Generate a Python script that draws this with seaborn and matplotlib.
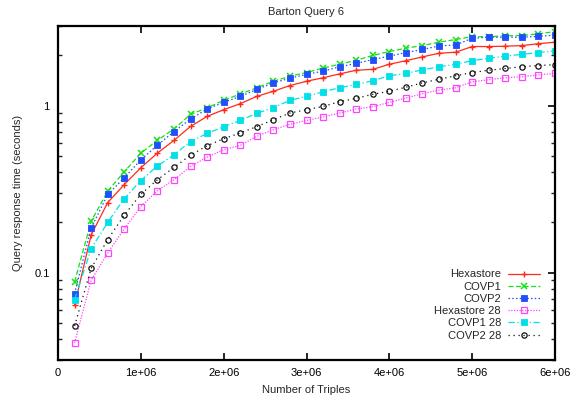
import numpy as np
import pandas as pd
import matplotlib
matplotlib.use("Agg")
import matplotlib.pyplot as plt
import seaborn as sns
from matplotlib.ticker import FixedLocator, NullFormatter, FixedFormatter

sns.set_theme(style="white")
plt.rcParams['font.family'] = ['Liberation Sans', 'DejaVu Sans']

triples = [200000 * k for k in range(1, 31)]

hexastore = [0.064, 0.168, 0.263, 0.337, 0.425, 0.52, 0.62, 0.751, 0.863, 0.946,
             1.028, 1.137, 1.22, 1.32, 1.40, 1.47, 1.55, 1.63, 1.65, 1.77,
             1.86, 1.96, 2.06, 2.09, 2.26, 2.26, 2.27, 2.29, 2.35, 2.40]
covp1 = [0.088, 0.203, 0.308, 0.402, 0.52, 0.62, 0.725, 0.887, 0.97, 1.076,
         1.175, 1.28, 1.40, 1.50, 1.58, 1.68, 1.77, 1.87, 2.0, 2.11,
         2.21, 2.29, 2.40, 2.49, 2.59, 2.59, 2.62, 2.63, 2.69, 2.78]
covp2 = [0.075, 0.185, 0.294, 0.37, 0.474, 0.58, 0.70, 0.832, 0.955, 1.047,
         1.137, 1.25, 1.37, 1.46, 1.54, 1.61, 1.71, 1.79, 1.89, 1.98,
         2.08, 2.17, 2.28, 2.31, 2.53, 2.57, 2.57, 2.57, 2.60, 2.65]
hexastore28 = [0.038, 0.090, 0.131, 0.183, 0.249, 0.31, 0.36, 0.433, 0.492, 0.545,
               0.578, 0.655, 0.718, 0.773, 0.816, 0.855, 0.904, 0.955, 0.986, 1.047,
               1.11, 1.18, 1.24, 1.28, 1.39, 1.43, 1.47, 1.49, 1.53, 1.56]
covp1_28 = [0.069, 0.139, 0.20, 0.278, 0.356, 0.436, 0.508, 0.61, 0.682, 0.748,
            0.816, 0.90, 0.973, 1.076, 1.137, 1.21, 1.28, 1.34, 1.41, 1.51,
            1.56, 1.64, 1.71, 1.77, 1.86, 1.92, 1.98, 2.03, 2.08, 2.13]
covp2_28 = [0.048, 0.106, 0.158, 0.221, 0.295, 0.36, 0.427, 0.506, 0.575, 0.634,
            0.686, 0.75, 0.824, 0.904, 0.946, 0.99, 1.057, 1.106, 1.17, 1.22,
            1.29, 1.37, 1.44, 1.51, 1.58, 1.63, 1.67, 1.71, 1.74, 1.76]

series = [
    ("Hexastore", hexastore, "#ff2a1a", "-", "+", dict(ms=4.5, mew=1.0)),
    ("COVP1", covp1, "#14e014", (0, (4, 2)), "x", dict(ms=4.5, mew=1.1)),
    ("COVP2", covp2, "#1f4fff", (0, (1.2, 1.8)), "s", dict(ms=3.8, mew=0.6)),
    ("Hexastore 28", hexastore28, "#ff44ff", (0, (1, 1.2)), "s", dict(ms=3.8, mew=0.9, mfc="none")),
    ("COVP1 28", covp1_28, "#00e0e8", (0, (5, 2, 1, 2)), "s", dict(ms=4.5, mew=0.6)),
    ("COVP2 28", covp2_28, "#111111", (0, (1, 3)), "o", dict(ms=3.8, mew=0.9, mfc="none")),
]

fig = plt.figure(figsize=(5.72, 3.98), dpi=100)
ax = fig.add_axes([58/572, 1-360/398, 497/572, 334/398])

for name, vals, color, ls, mk, kw in series:
    df = pd.DataFrame({"x": triples, "y": vals})
    sns.lineplot(data=df, x="x", y="y", ax=ax, color=color, linestyle=ls,
                 linewidth=0.9, marker=mk, markeredgecolor=color, label=name, **kw)

ax.set_yscale("log")
ax.set_xlim(0, 6e6)
ax.set_ylim(0.03, 3.0)

xt = [0, 1e6, 2e6, 3e6, 4e6, 5e6, 6e6]
xtl = ["0", "1e+06", "2e+06", "3e+06", "4e+06", "5e+06", "6e+06"]
ax.xaxis.set_major_locator(FixedLocator(xt))
ax.xaxis.set_major_formatter(FixedFormatter(xtl))
ax.yaxis.set_major_locator(FixedLocator([0.1, 1]))
ax.yaxis.set_major_formatter(FixedFormatter(["0.1", "1"]))
minors = [0.03, 0.04, 0.05, 0.06, 0.07, 0.08, 0.09, 0.2, 0.3, 0.4, 0.5, 0.6, 0.7, 0.8, 0.9, 2, 3]
ax.yaxis.set_minor_locator(FixedLocator(minors))
ax.yaxis.set_minor_formatter(NullFormatter())

ax.tick_params(axis="both", which="major", direction="in", length=5, width=1.2,
               top=True, right=True, labelsize=8, pad=6, colors="black")
ax.tick_params(axis="y", which="minor", direction="in", length=3, width=1.0,
               left=True, right=True)
ax.tick_params(axis="x", which="both", bottom=True, top=True)
for sp in ax.spines.values():
    sp.set_visible(True)
    sp.set_color("black")
    sp.set_linewidth(1.6)

ax.set_xlabel("Number of Triples", fontsize=8, labelpad=5)
ax.set_ylabel("Query response time (seconds)", fontsize=8, labelpad=8)
ax.set_title("Barton Query 6", fontsize=8, pad=8)

leg = ax.legend(loc="lower right", bbox_to_anchor=(0.985, 0.035), frameon=False,
                markerfirst=False, fontsize=8, handlelength=2.9, labelspacing=0.2,
                borderpad=0.2, handletextpad=0.6)

fig.savefig("out.png", dpi=100, facecolor="white")
